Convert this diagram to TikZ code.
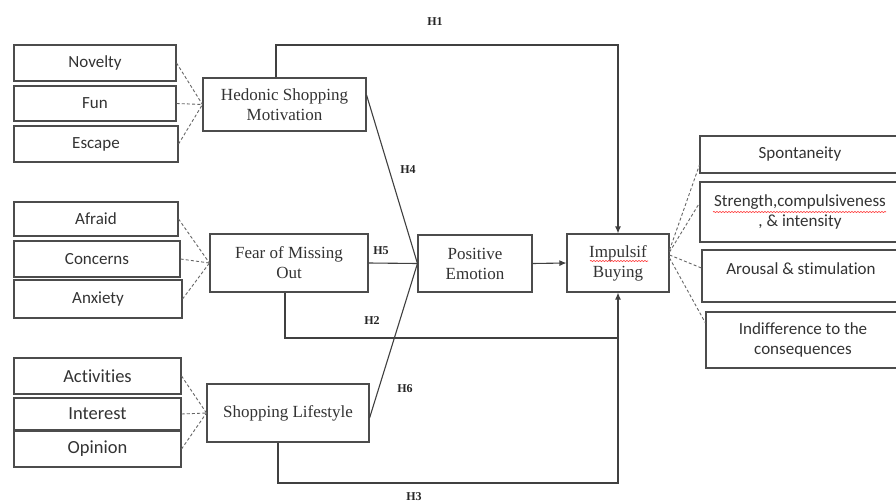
\documentclass[tikz,border=0pt]{standalone}
\usepackage{fontspec}
\setmainfont{Liberation Serif}
\newfontfamily\carl[Ligatures=NoCommon]{Carlito}
\usetikzlibrary{arrows.meta,decorations.pathmorphing}
\begin{document}
\begin{tikzpicture}[x=1pt,y=-1pt,
  box/.style={draw=black!70,line width=1.1pt,inner sep=0pt,text=black!80},
  sfont/.style={font=\carl\fontsize{17}{20}\selectfont,align=center,text=black!80},
  sbox/.style={box,sfont},
  sboxb/.style={box,font=\carl\fontsize{18.5}{21}\selectfont,align=center},
  cbox/.style={box,font=\fontsize{17}{20}\selectfont,align=center},
  dsh/.style={draw=black!60,line width=0.9pt,dash pattern=on 3pt off 2.2pt},
  con/.style={draw=black!75,line width=1.1pt},
  arr/.style={con,-{Latex[length=7pt,width=6pt]}},
  hl/.style={font=\bfseries\fontsize{12}{13}\selectfont,text=black!85},
  wavy/.style={draw=red!80,line width=0.6pt,decorate,decoration={snake,amplitude=0.6pt,segment length=3pt}}]
\clip (0,0) rectangle (896,503);
\fill[white] (0,0) rectangle (896,503);
% left indicator boxes
\node[sbox,minimum width=162,minimum height=36] (nov) at (95,63) {Novelty};
\node[sbox,minimum width=162,minimum height=35] (fun) at (95,103.5) {Fun};
\node[sbox,minimum width=164,minimum height=36] (esc) at (96,144) {Escape};
\node[sbox,minimum width=164,minimum height=34] (afr) at (96,219) {Afraid};
\node[sbox,minimum width=166,minimum height=36] (cnc) at (97,259) {Concerns};
\node[sbox,minimum width=168,minimum height=38] (anx) at (98,299) {Anxiety};
\node[sboxb,minimum width=167,minimum height=36] (act) at (97.5,376) {Activities};
\node[sboxb,minimum width=167,minimum height=32] (int) at (97.5,414) {Interest};
\node[sboxb,minimum width=167,minimum height=36] (opi) at (97.5,449) {Opinion};
% constructs
\node[cbox,minimum width=163,minimum height=53] (hed) at (284.5,104.5) {Hedonic Shopping\\Motivation};
\node[cbox,minimum width=158,minimum height=58] (fomo) at (289,263) {Fear of Missing\\Out};
\node[cbox,minimum width=162,minimum height=58] (sl) at (288,413) {Shopping Lifestyle};
\node[cbox,minimum width=114,minimum height=57] (pe) at (475,263.5) {Positive\\Emotion};
\node[cbox,minimum width=102,minimum height=58] (ib) at (618,263) {Impulsif\\Buying};
% right indicator boxes
\node[sbox,minimum width=200,minimum height=37] (spo) at (800,154.5) {Spontaneity};
\node[sbox,minimum width=200,minimum height=60] (str) at (800,212) {Strength,compulsiveness\\, \& intensity};
\node[box,minimum width=198,minimum height=52] (aro) at (801,276) {};
\node[sfont] (arot) at (801,269) {Arousal \& stimulation};
\node[sbox,minimum width=194,minimum height=56] (ind) at (803,340) {Indifference to the\\consequences};
% spell-check underlines
\coordinate (w1a) at (713,212); \coordinate (w1b) at (886,212);
\draw[wavy] (w1a) -- (w1b);
\coordinate (w2a) at (590,261); \coordinate (w2b) at (648,261);
\draw[wavy] (w2a) -- (w2b);
% dashed indicator links
\foreach \s in {nov,fun,esc} \draw[dsh] (\s.east) -- (hed.west);
\foreach \s in {afr,cnc,anx} \draw[dsh] (\s.east) -- (fomo.west);
\foreach \s in {act,int,opi} \draw[dsh] (\s.east) -- (sl.west);
\draw[dsh] ([yshift=13pt]ib.east) -- ([yshift=-10.5pt]spo.west);
\draw[dsh] ([yshift=11pt]ib.east) -- ([yshift=9pt]str.west);
\draw[dsh] ([yshift=8pt]ib.east) -- ([yshift=8pt]aro.west);
\draw[dsh] ([yshift=5pt]ib.east) -- ([yshift=17pt]ind.west);
% hypotheses
\coordinate (h1a) at (276,45); \coordinate (h1b) at (618,45);
\draw[arr] (hed.north -| h1a) -- (h1a) -- (h1b) -- (ib.north);
\draw[con] ([yshift=9.5pt]hed.east) -- (pe.west);
\draw[con] (fomo.east) -- (pe.west);
\draw[con] ([yshift=-5pt]sl.east) -- (pe.west);
\draw[arr] (pe.east) -- (ib.west);
\coordinate (h2c) at (285,338);
\draw[arr] (fomo.south -| h2c) -- (h2c) -- (ib.south |- h2c) -- (ib.south);
\coordinate (h3c) at (278,483);
\draw[con] (sl.south -| h3c) -- (h3c) -- (ib.south |- h3c) -- (ib.south |- h2c);
% labels
\node[hl] (l1) at (435,22) {H1};
\node[hl] (l4) at (408,170) {H4};
\node[hl] (l5) at (381,251) {H5};
\node[hl] (l2) at (372,321) {H2};
\node[hl] (l6) at (405,389) {H6};
\node[hl] (l3) at (414,497) {H3};
\end{tikzpicture}
\end{document}
